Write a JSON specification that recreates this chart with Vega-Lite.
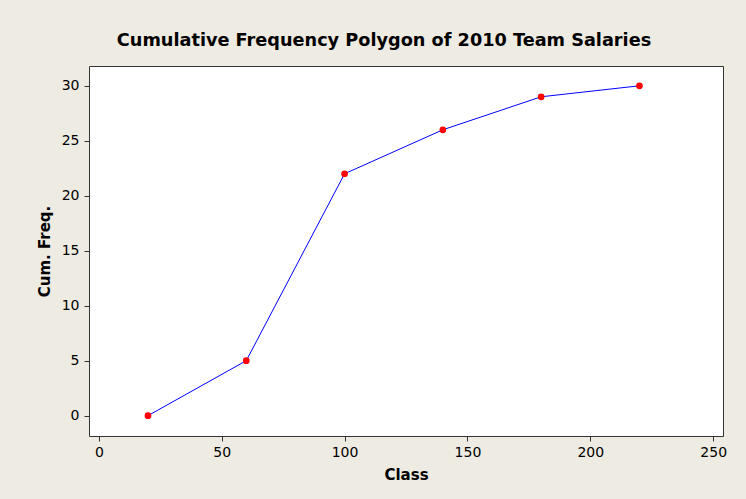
{
  "$schema": "https://vega.github.io/schema/vega-lite/v6.json",
  "width": 634,
  "height": 370,
  "autosize": {"type": "none"},
  "padding": {"left": 89, "top": 66, "right": 23, "bottom": 63},
  "background": "#EEEBE2",
  "title": {
    "text": "Cumulative Frequency Polygon of 2010 Team Salaries",
    "font": "DejaVu Sans",
    "fontSize": 17.7,
    "fontWeight": "bold",
    "color": "#000000",
    "anchor": "middle",
    "dx": -22,
    "offset": 16
  },
  "config": {
    "view": {"fill": "#FFFFFF", "stroke": "#333333", "strokeWidth": 1},
    "axis": {
      "grid": false,
      "domain": false,
      "tickColor": "#333333",
      "tickSize": 5,
      "labelFont": "DejaVu Sans",
      "labelFontSize": 14,
      "labelColor": "#000000",
      "titleFont": "DejaVu Sans",
      "titleFontSize": 15,
      "titleFontWeight": "bold",
      "titleColor": "#000000"
    }
  },
  "data": {
    "values": [
      {"Class": 20, "CumFreq": 0},
      {"Class": 60, "CumFreq": 5},
      {"Class": 100, "CumFreq": 22},
      {"Class": 140, "CumFreq": 26},
      {"Class": 180, "CumFreq": 29},
      {"Class": 220, "CumFreq": 30}
    ]
  },
  "encoding": {
    "x": {
      "field": "Class",
      "type": "quantitative",
      "scale": {"domain": [-4, 254], "nice": false, "zero": false},
      "axis": {"title": "Class", "values": [0, 50, 100, 150, 200, 250], "labelPadding": 4, "titlePadding": 8}
    },
    "y": {
      "field": "CumFreq",
      "type": "quantitative",
      "scale": {"domain": [-1.85, 31.8], "nice": false, "zero": false},
      "axis": {"title": "Cum. Freq.", "values": [0, 5, 10, 15, 20, 25, 30], "labelPadding": 5, "titlePadding": 9}
    }
  },
  "layer": [
    {"mark": {"type": "line", "color": "#0000FF", "strokeWidth": 1}},
    {"mark": {"type": "point", "filled": true, "color": "#FF0000", "opacity": 1, "size": 45}}
  ]
}
